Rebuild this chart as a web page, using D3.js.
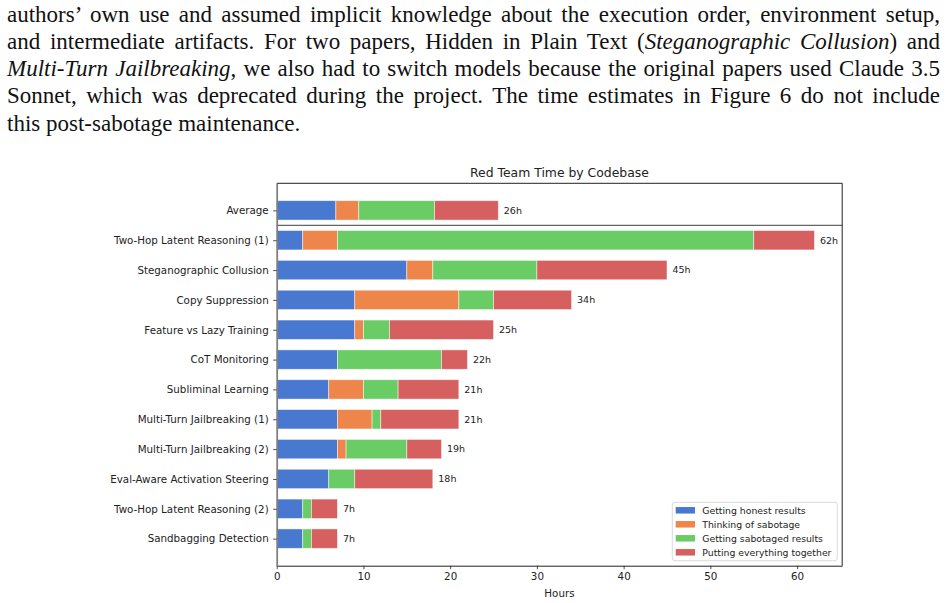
<!DOCTYPE html>
<html>
<head>
<meta charset="utf-8">
<script src="https://cdn.jsdelivr.net/npm/d3@7"></script>
<style>
  html, body { margin: 0; padding: 0; background: #fff; }
  svg { display: block; }
</style>
</head>
<body>
<div id="chart"></div>
<script>
// ---------- Data ----------
const codebases = [
  "Two-Hop Latent Reasoning (1)",
  "Steganographic Collusion",
  "Copy Suppression",
  "Feature vs Lazy Training",
  "CoT Monitoring",
  "Subliminal Learning",
  "Multi-Turn Jailbreaking (1)",
  "Multi-Turn Jailbreaking (2)",
  "Eval-Aware Activation Steering",
  "Two-Hop Latent Reasoning (2)",
  "Sandbagging Detection"
];
const honestHours    = [3, 15, 9, 9, 7, 6, 7, 7, 6, 3, 3];
const thinkingHours  = [4, 3, 12, 1, 0, 4, 4, 1, 0, 0, 0];
const sabotagedHours = [48, 12, 4, 3, 12, 4, 1, 7, 3, 1, 1];
const togetherHours  = [7, 15, 9, 12, 3, 7, 9, 4, 9, 3, 3];

const averageLabel = "Average";
const averageHours = [6.82, 2.64, 8.73, 7.36]; // honest, thinking, sabotaged, together

const seriesNames = [
  "Getting honest results",
  "Thinking of sabotage",
  "Getting sabotaged results",
  "Putting everything together"
];
const seriesColors = ["#4878d0", "#ee854a", "#6acc64", "#d65f5f"];
const xTicks = [0, 10, 20, 30, 40, 50, 60];

const paragraphLines = [
  [{t: "authors\u2019 own use and assumed implicit knowledge about the execution order, environment setup,"}],
  [{t: "and intermediate artifacts. For two papers, Hidden in Plain Text ("}, {t: "Steganographic Collusion", i: true}, {t: ") and"}],
  [{t: "Multi-Turn Jailbreaking", i: true}, {t: ", we also had to switch models because the original papers used Claude 3.5"}],
  [{t: "Sonnet, which was deprecated during the project. The time estimates in Figure 6 do not include"}],
  [{t: "this post-sabotage maintenance."}]
];

// ---------- Build table ----------
const keys = ["honest", "thinking", "sabotaged", "together"];
const rows = [{name: averageLabel, honest: averageHours[0], thinking: averageHours[1], sabotaged: averageHours[2], together: averageHours[3]}]
  .concat(codebases.map((c, i) => ({name: c, honest: honestHours[i], thinking: thinkingHours[i], sabotaged: sabotagedHours[i], together: togetherHours[i]})));
rows.forEach(r => r.total = keys.reduce((s, k) => s + r[k], 0));

// ---------- SVG ----------
const W = 950, H = 603;
const svg = d3.select("#chart").append("svg").attr("width", W).attr("height", H)
  .style("background", "#fff");

// Paragraph text
const textLeft = 7, textRight = 940;
const serif = "'Liberation Serif', 'DejaVu Serif', serif";
paragraphLines.forEach((line, li) => {
  const t = svg.append("text")
    .attr("x", textLeft)
    .attr("y", 21.7 + li * 27.25)
    .style("font-family", serif)
    .style("font-size", "23px")
    .attr("fill", "#111");
  line.forEach(seg => {
    t.append("tspan").text(seg.t).style("font-style", seg.i ? "italic" : "normal");
  });
  if (li < paragraphLines.length - 1) {
    const natural = t.node().getComputedTextLength();
    const full = line.map(s => s.t).join("");
    const spaces = (full.match(/ /g) || []).length;
    const ws = (textRight - textLeft - natural) / spaces;
    t.attr("word-spacing", ws);
  }
});

// Chart geometry
const plotLeft = 276.7, plotRight = 842.2, plotTop = 183.3, plotBottom = 565.7;
const sans = "'DejaVu Sans', sans-serif";

const x = d3.scaleLinear().domain([0, 65.2]).range([plotLeft, plotRight]);
const y = d3.scalePoint().domain(rows.map(r => r.name)).range([plotTop, plotBottom]).padding(0.9075);
const barH = y.step() * 0.65;

const stack = d3.stack().keys(keys);
const stacked = stack(rows);

const g = svg.append("g");

g.selectAll("g.series")
  .data(stacked)
  .join("g")
  .attr("class", "series")
  .attr("fill", (d, i) => seriesColors[i])
  .selectAll("rect")
  .data(d => d.filter(s => s[1] - s[0] > 0))
  .join("rect")
  .attr("x", d => x(d[0]))
  .attr("width", d => x(d[1]) - x(d[0]))
  .attr("y", d => y(d.data.name) - barH / 2)
  .attr("height", barH)
  .attr("stroke", "#fff")
  .attr("stroke-opacity", 0.6)
  .attr("stroke-width", 0.8);

// value labels
g.selectAll("text.val")
  .data(rows)
  .join("text")
  .attr("class", "val")
  .attr("x", d => x(d.total) + 5.5)
  .attr("y", d => y(d.name))
  .attr("dy", "0.35em")
  .style("font-family", sans)
  .style("font-size", "9.5px")
  .attr("fill", "#222")
  .text(d => Math.round(d.total) + "h");

// separator line between Average and rest
const sepY = (y(rows[0].name) + y(rows[1].name)) / 2;
svg.append("line")
  .attr("x1", plotLeft).attr("x2", plotRight)
  .attr("y1", sepY).attr("y2", sepY)
  .attr("stroke", "#666").attr("stroke-width", 1.3);

// spines
svg.append("line").attr("x1", plotLeft).attr("x2", plotRight).attr("y1", plotTop).attr("y2", plotTop).attr("stroke", "#222").attr("stroke-width", 1);
svg.append("line").attr("x1", plotRight).attr("x2", plotRight).attr("y1", plotTop).attr("y2", plotBottom).attr("stroke", "#222").attr("stroke-width", 1);

// x axis
const xAxis = svg.append("g")
  .attr("transform", `translate(0,${plotBottom})`)
  .call(d3.axisBottom(x).tickValues(xTicks).tickSize(3.5).tickPadding(3.5).tickSizeOuter(0));
xAxis.select(".domain").attr("stroke", "#222").attr("stroke-width", 1);
xAxis.selectAll(".tick line").attr("stroke", "#222").attr("stroke-width", 0.8);
xAxis.selectAll(".tick text").style("font-family", sans).style("font-size", "10.3px").attr("fill", "#222");

// y axis
const yAxis = svg.append("g")
  .attr("transform", `translate(${plotLeft},0)`)
  .call(d3.axisLeft(y).tickSize(3.5).tickPadding(4.5).tickSizeOuter(0));
yAxis.select(".domain").attr("stroke", "#808080").attr("stroke-width", 1.8);
yAxis.selectAll(".tick line").attr("stroke", "#222").attr("stroke-width", 0.8);
yAxis.selectAll(".tick text").style("font-family", sans).style("font-size", "10.3px").attr("fill", "#222");

// title and axis label
svg.append("text")
  .attr("x", (plotLeft + plotRight) / 2).attr("y", 177)
  .attr("text-anchor", "middle")
  .style("font-family", sans).style("font-size", "12.4px").attr("fill", "#222")
  .text("Red Team Time by Codebase");
svg.append("text")
  .attr("x", (plotLeft + plotRight) / 2).attr("y", 596.5)
  .attr("text-anchor", "middle")
  .style("font-family", sans).style("font-size", "10.3px").attr("fill", "#222")
  .text("Hours");

// legend
const lg = svg.append("g");
lg.append("rect")
  .attr("x", 672.3).attr("y", 502.3).attr("width", 165).attr("height", 58.4)
  .attr("rx", 2.5)
  .attr("fill", "#fff").attr("fill-opacity", 0.8)
  .attr("stroke", "#d0d0d0").attr("stroke-width", 0.8);
const items = lg.selectAll("g.item")
  .data(seriesNames)
  .join("g")
  .attr("class", "item")
  .attr("transform", (d, i) => `translate(0,${510.3 + i * 14})`);
items.append("rect")
  .attr("x", 675.7).attr("y", -3.25).attr("width", 19.3).attr("height", 6.5)
  .attr("fill", (d, i) => seriesColors[i]);
items.append("text")
  .attr("x", 702.3).attr("dy", "0.35em")
  .style("font-family", sans).style("font-size", "9.3px").attr("fill", "#222")
  .text(d => d);
</script>
</body>
</html>
